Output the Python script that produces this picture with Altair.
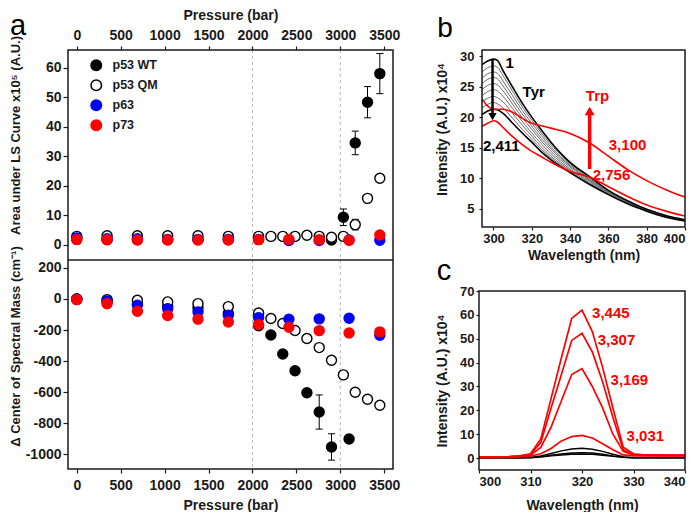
import altair as alt
import pandas as pd

FONT = "Liberation Sans"
INK = "#1a1a1a"
RED = "#ff0000"
BLUE = "#0000ff"
PLAIN = "'' + datum.value"

# ---------------- panel a data ----------------
series_names = ["p53 WT", "p53 QM", "p63", "p73"]
series_fill = ["#000000", "#ffffff", BLUE, RED]
series_stroke = ["#000000", "#000000", BLUE, RED]
pressure_ticks = [0, 500, 1000, 1500, 2000, 2500, 3000, 3500]
guide_pressures = [2000, 3000]
area_ticks = [0, 10, 20, 30, 40, 50, 60]
csm_ticks = [-1000, -800, -600, -400, -200, 0, 200]

# top: area under LS curve (x10^5 A.U.)
wt_top_p = [0, 345, 690, 1035, 1380, 1725, 2070, 2900, 3035, 3170, 3310, 3450]
wt_top_v = [1.8, 1.7, 1.7, 1.7, 1.7, 1.7, 1.8, 1.6, 9.3, 34.5, 48.3, 58.0]
wt_top_e = [0, 0, 0, 0, 0, 0, 0, 0, 2.8, 4.0, 5.3, 6.8]
qm_p = [0, 345, 690, 1035, 1380, 1725, 2070, 2210, 2345, 2485, 2620, 2760, 2900, 3035, 3170, 3310, 3450]
qm_top_v = [2.8, 3.0, 3.0, 3.0, 3.0, 2.8, 2.8, 2.8, 2.8, 2.8, 3.2, 2.8, 2.5, 2.8, 6.8, 15.7, 22.5]
qm_top_e = [0, 0, 0, 0, 0, 0, 0, 0, 0, 0, 0, 0, 0, 0, 1.8, 0, 0]
p6373_p = [0, 345, 690, 1035, 1380, 1725, 2070, 2415, 2760, 3100, 3450]
p63_top_v = [2.3, 2.0, 2.0, 1.8, 1.8, 1.8, 1.8, 1.4, 1.4, 1.6, 1.5]
p73_top_v = [1.8, 1.7, 1.6, 1.6, 1.6, 1.6, 1.7, 1.8, 1.7, 1.5, 3.3]

# bottom: delta center of spectral mass (cm-1)
wt_bot_p = [0, 345, 690, 1035, 1380, 1725, 2070, 2210, 2345, 2485, 2620, 2760, 2900, 3100]
wt_bot_v = [0, -19, -34, -47, -56, -94, -172, -232, -354, -462, -604, -728, -953, -902]
wt_bot_e = [0, 0, 0, 0, 0, 0, 0, 0, 0, 0, 0, 110, 85, 0]
qm_bot_v = [0, -4, -8, -19, -30, -49, -90, -126, -158, -203, -255, -313, -395, -489, -601, -646, -684]
p63_bot_v = [-3, -12, -40, -62, -83, -105, -120, -130, -128, -124, -234]
p63_bot_e = [0, 0, 0, 0, 0, 0, 0, 0, 22, 25, 0]
p73_bot_v = [-4, -30, -79, -107, -130, -148, -165, -182, -204, -219, -212]

# ---------------- panel b data ----------------
b_wl = [294, 297, 300, 302, 305, 310, 315, 320, 325, 330, 340, 350, 360, 370, 380, 390, 400]
b_curve_1 = [28.6, 29.2, 29.5, 29.3, 27.6, 24.9, 22.3, 20.0, 17.9, 15.9, 12.6, 10.3, 8.0, 6.3, 4.9, 3.9, 3.2]
b_curve_2 = [27.4, 28.1, 28.4, 28.2, 26.8, 24.2, 21.7, 19.5, 17.4, 15.5, 12.4, 10.2, 7.9, 6.2, 4.9, 3.8, 3.1]
b_curve_3 = [26.4, 27.1, 27.4, 27.2, 25.9, 23.5, 21.1, 19.0, 17.0, 15.1, 12.2, 10.0, 7.8, 6.2, 4.8, 3.8, 3.1]
b_curve_4 = [25.5, 26.2, 26.5, 26.3, 25.1, 22.8, 20.5, 18.5, 16.5, 14.8, 12.0, 9.8, 7.7, 6.1, 4.8, 3.8, 3.1]
b_curve_5 = [24.5, 25.2, 25.5, 25.3, 24.3, 22.1, 19.9, 18.0, 16.1, 14.4, 11.8, 9.7, 7.6, 6.1, 4.8, 3.7, 3.0]
b_curve_6 = [23.5, 24.2, 24.5, 24.3, 23.4, 21.4, 19.3, 17.4, 15.6, 14.0, 11.5, 9.5, 7.5, 6.0, 4.7, 3.7, 3.0]
b_curve_7 = [22.5, 23.1, 23.4, 23.2, 22.5, 20.6, 18.7, 16.9, 15.1, 13.6, 11.3, 9.3, 7.4, 6.0, 4.7, 3.7, 3.0]
b_curve_8 = [21.5, 22.1, 22.4, 22.2, 21.5, 19.8, 18.0, 16.4, 14.7, 13.3, 11.1, 9.1, 7.4, 5.9, 4.7, 3.7, 3.0]
b_curve_2411 = [20.4, 21.0, 21.3, 21.2, 20.6, 19.0, 17.4, 15.9, 14.3, 13.0, 10.9, 9.0, 7.3, 5.8, 4.6, 3.6, 3.0]
b_curve_2756 = [18.5, 19.0, 19.4, 19.2, 18.3, 16.8, 15.5, 14.4, 13.5, 12.6, 11.1, 10.2, 8.6, 7.0, 5.6, 4.6, 3.8]
b_curve_3100 = [23.0, 21.8, 21.3, 21.3, 21.3, 20.8, 19.8, 19.0, 18.6, 18.2, 17.3, 15.8, 13.6, 11.4, 9.6, 8.1, 6.9]
b_gray_curves = [b_curve_2, b_curve_3, b_curve_4, b_curve_5, b_curve_6, b_curve_7, b_curve_8]
b_black_curves = [b_curve_1, b_curve_2411]
b_red_curves = [b_curve_2756, b_curve_3100]

b_text = ["1", "Tyr", "2,411", "Trp", "3,100", "2,756"]
b_text_x = [308.5, 321.0, 304.1, 354.3, 370.0, 361.6]
b_text_y = [28.9, 24.2, 15.2, 23.4, 15.5, 10.6]
b_text_col = ["#000000", "#000000", "#000000", RED, RED, RED]

arrow_x = [299.5, 350.2]
arrow_from = [29.4, 11.5]
arrow_to = [20.6, 20.5]
arrow_head_y = [20.1, 21.0]
arrow_shape = ["triangle-down", "triangle-up"]
arrow_col = ["#000000", RED]
arrow_w = [2.5, 3.5]
arrow_head_size = [70, 100]

# ---------------- panel c data ----------------
c_wl = [300, 302, 304, 306, 308, 310, 312, 314, 316, 318, 320, 322, 324, 326, 328, 330, 332, 334, 336, 338, 340]
c_3445 = [0.4, 0.4, 0.5, 0.6, 0.9, 1.8, 8.0, 25.0, 42.0, 58.5, 62.0, 53.0, 38.0, 21.0, 4.5, 1.8, 1.4, 1.3, 1.2, 1.2, 1.2]
c_3307 = [0.4, 0.4, 0.5, 0.6, 0.9, 1.6, 6.5, 21.0, 35.0, 49.3, 52.3, 44.5, 32.0, 17.0, 3.5, 1.5, 1.3, 1.2, 1.1, 1.1, 1.1]
c_3169 = [0.3, 0.3, 0.4, 0.5, 0.7, 1.2, 4.5, 13.0, 24.0, 35.0, 37.5, 30.0, 21.0, 10.0, 2.8, 1.2, 1.1, 1.0, 1.0, 1.0, 1.0]
c_3031 = [0.3, 0.3, 0.3, 0.4, 0.5, 0.8, 1.8, 4.0, 7.2, 9.0, 9.5, 8.4, 6.0, 3.5, 1.3, 0.9, 0.9, 0.9, 0.9, 0.9, 0.9]
c_black_1 = [0.2, 0.2, 0.2, 0.2, 0.2, 0.3, 0.9, 1.9, 3.0, 3.8, 4.1, 3.7, 2.8, 1.6, 0.6, 0.2, 0.2, 0.2, 0.2, 0.2, 0.2]
c_black_2 = [0.1, 0.1, 0.1, 0.1, 0.1, 0.2, 0.6, 1.2, 1.7, 2.1, 2.3, 2.1, 1.6, 0.9, 0.3, 0.1, 0.1, 0.1, 0.1, 0.1, 0.1]
c_black_3 = [0.1, 0.1, 0.1, 0.1, 0.1, 0.1, 0.4, 0.9, 1.3, 1.6, 1.7, 1.6, 1.2, 0.7, 0.3, 0.1, 0.1, 0.1, 0.1, 0.1, 0.1]
c_red_curves = [c_3031, c_3169, c_3307, c_3445]
c_black_curves = [c_black_1, c_black_2, c_black_3]

c_text = ["3,445", "3,307", "3,169", "3,031"]
c_text_x = [325.6, 326.7, 329.2, 332.3]
c_text_y = [60.8, 49.6, 32.6, 9.2]

# ---------------- build tables ----------------
stroke_map = dict(zip(series_names, series_stroke))


def make_points(parts):
    frames = []
    for name, ps, vs, es in parts:
        frames.append(pd.DataFrame({"series": name, "pressure": ps, "value": vs, "err": es}))
    df = pd.concat(frames, ignore_index=True)
    df["order"] = range(len(df))
    df["ecol"] = df["series"].map(stroke_map)
    df["lo"] = df["value"] - df["err"]
    df["hi"] = df["value"] + df["err"]
    return df


top_df = make_points([
    ("p53 WT", wt_top_p, wt_top_v, wt_top_e),
    ("p53 QM", qm_p, qm_top_v, qm_top_e),
    ("p63", p6373_p, p63_top_v, [0] * len(p6373_p)),
    ("p73", p6373_p, p73_top_v, [0] * len(p6373_p)),
])
bot_df = make_points([
    ("p53 WT", wt_bot_p, wt_bot_v, wt_bot_e),
    ("p53 QM", qm_p, qm_bot_v, [0] * len(qm_p)),
    ("p63", p6373_p, p63_bot_v, p63_bot_e),
    ("p73", p6373_p, p73_bot_v, [0] * len(p6373_p)),
])


def make_lines(wl, curves, col, w):
    frames = []
    for i, c in enumerate(curves):
        frames.append(pd.DataFrame({"wl": wl, "I": c, "curve": f"{col}{i}", "col": col, "w": w}))
    return pd.concat(frames, ignore_index=True)


b_gray_df = make_lines(b_wl, b_gray_curves, "#6a6a6a", 1.0)
b_black_df = make_lines(b_wl, b_black_curves, "#000000", 1.6)
b_red_df = make_lines(b_wl, b_red_curves, RED, 1.6)
c_black_df = make_lines(c_wl, c_black_curves, "#000000", 1.4)
c_red_df = make_lines(c_wl, c_red_curves, RED, 1.7)

arrows_df = pd.DataFrame({"x": arrow_x, "y1": arrow_from, "y2": arrow_to, "hy": arrow_head_y,
                          "shape": arrow_shape, "col": arrow_col, "w": arrow_w, "hs": arrow_head_size})
b_text_df = pd.DataFrame({"t": b_text, "x": b_text_x, "y": b_text_y, "col": b_text_col})
c_text_df = pd.DataFrame({"t": c_text, "x": c_text_x, "y": c_text_y})
one = pd.DataFrame({"k": [0]})

# ---------------- panel a ----------------
W_A, H_A, H_TOP = 325, 419, 210
x_a = alt.Scale(domain=[-100, 3600], nice=False, zero=False)
ax_top = alt.Axis(orient="top", values=pressure_ticks, title="Pressure (bar)", tickSize=4,
                  labelPadding=4, titlePadding=6, labelFontSize=14, labelExpr=PLAIN)
ax_bot = alt.Axis(orient="bottom", values=pressure_ticks, title="Pressure (bar)", tickSize=4,
                  labelPadding=5, titlePadding=6, labelFontSize=14, labelExpr=PLAIN)
y_top_scale = alt.Scale(domain=[-5.2, 66], range=[H_TOP, 0], nice=False, zero=False)
y_bot_scale = alt.Scale(domain=[-1095, 251], range=[H_A, H_TOP], nice=False, zero=False)
ay_top = alt.Axis(orient="left", values=area_ticks, title="Area under LS Curve x10⁵ (A.U.)",
                  tickSize=5, labelPadding=2, labelFontSize=14, titleFontSize=13, labelExpr=PLAIN,
                  titleX=-46, titleY=85, titleAngle=-90, titleBaseline="bottom", titleAlign="center")
ay_bot = alt.Axis(orient="left", values=csm_ticks, title="Δ Center of Spectral Mass (cm⁻¹)",
                  tickSize=5, labelPadding=2, labelFontSize=14, titleFontSize=13, labelExpr=PLAIN,
                  titleX=-46, titleY=296, titleAngle=-90, titleBaseline="bottom", titleAlign="center")

legend_a = alt.Legend(orient="none", legendX=22, legendY=9, title=None, labelFont=FONT,
                      labelFontSize=12.5, labelFontWeight="bold", labelColor=INK, symbolSize=110,
                      symbolStrokeWidth=1.5, labelOffset=10, rowPadding=3, padding=0,
                      symbolType="circle")
fill_scale = alt.Scale(domain=series_names, range=series_fill)
stroke_scale = alt.Scale(domain=series_names, range=series_stroke)


def point_group(df, yscale, yaxis, xaxis):
    e = df[df["err"] > 0]
    xenc = alt.X("pressure:Q", scale=x_a, axis=xaxis)
    rule = alt.Chart(e).mark_rule(strokeWidth=1, opacity=1).encode(
        x=xenc, y=alt.Y("lo:Q", scale=yscale, axis=yaxis), y2="hi:Q",
        color=alt.Color("ecol:N", scale=None))
    cap_lo = alt.Chart(e).mark_tick(orient="horizontal", size=7, thickness=1, opacity=1).encode(
        x=xenc, y=alt.Y("lo:Q", scale=yscale, axis=yaxis), color=alt.Color("ecol:N", scale=None))
    cap_hi = alt.Chart(e).mark_tick(orient="horizontal", size=7, thickness=1, opacity=1).encode(
        x=xenc, y=alt.Y("hi:Q", scale=yscale, axis=yaxis), color=alt.Color("ecol:N", scale=None))
    pts = alt.Chart(df).mark_circle(size=100, strokeWidth=1.4, opacity=1).encode(
        x=xenc, y=alt.Y("value:Q", scale=yscale, axis=yaxis),
        fill=alt.Fill("series:N", scale=fill_scale, legend=legend_a),
        stroke=alt.Stroke("series:N", scale=stroke_scale, legend=legend_a),
        order=alt.Order("order:Q"))
    return alt.layer(rule, cap_lo, cap_hi, pts)


guides = alt.Chart(pd.DataFrame({"p": guide_pressures})).mark_rule(
    color="#b5b5b5", strokeDash=[3, 3], strokeWidth=1).encode(
    x=alt.X("p:Q", scale=x_a, axis=None))
sep_a = alt.Chart(one).mark_rule(color=INK, strokeWidth=1.5).encode(
    x=alt.value(0), x2=alt.value(W_A), y=alt.value(H_TOP))
frame_a = alt.Chart(one).mark_rect(fillOpacity=0, stroke=INK, strokeWidth=1.5).encode(
    x=alt.value(0), x2=alt.value(W_A), y=alt.value(0), y2=alt.value(H_A))
label_a = alt.Chart(pd.DataFrame({"t": ["a"]})).mark_text(
    font=FONT, fontSize=29, align="center", baseline="alphabetic", color="#000000").encode(
    x=alt.value(-50), y=alt.value(-15), text="t:N")

panel_a = alt.layer(
    guides,
    point_group(top_df, y_top_scale, ay_top, ax_top),
    point_group(bot_df, y_bot_scale, ay_bot, ax_bot),
    sep_a, frame_a, label_a,
).resolve_scale(y="independent").resolve_axis(x="independent", y="independent").properties(
    width=W_A, height=H_A)

# ---------------- panels b & c ----------------
W_R, H_R, B_H, C_TOP = 206, 420, 177, 241
x_b = alt.Scale(domain=[294, 400], range=[3, W_R], nice=False, zero=False)
y_b = alt.Scale(domain=[2, 31], range=[B_H, 0], nice=False, zero=False)
x_c = alt.Scale(domain=[300, 340], range=[0, W_R], nice=False, zero=False)
y_c = alt.Scale(domain=[-5, 70], range=[H_R, C_TOP], nice=False, zero=False)
ax_bx = alt.Axis(orient="bottom", offset=-(H_R - B_H), values=[300, 320, 340, 360, 380, 400],
                 title="Wavelength (nm)", tickSize=3, labelPadding=2, titlePadding=3, labelExpr=PLAIN)
ax_by = alt.Axis(orient="left", offset=-3, values=[5, 10, 15, 20, 25, 30],
                 title="Intensity (A.U.) x10⁴", tickSize=3, labelPadding=5, labelExpr=PLAIN,
                 titleX=-33, titleY=79, titleAngle=-90, titleBaseline="bottom", titleAlign="center")
ax_cx = alt.Axis(orient="bottom", values=[300, 310, 320, 330, 340], title="Wavelength (nm)",
                 tickSize=3, labelPadding=2, titlePadding=10, labelExpr=PLAIN)
ax_cy = alt.Axis(orient="left", values=[0, 10, 20, 30, 40, 50, 60, 70],
                 title="Intensity (A.U.) x10⁴", tickSize=3, labelPadding=2, labelExpr=PLAIN,
                 titleX=-30, titleAngle=-90, titleBaseline="bottom", titleAlign="center")


def lines(df, xs, ys, xa, ya, interp):
    return alt.Chart(df).mark_line(interpolate=interp).encode(
        x=alt.X("wl:Q", scale=xs, axis=xa), y=alt.Y("I:Q", scale=ys, axis=ya),
        detail="curve:N", color=alt.Color("col:N", scale=None),
        strokeWidth=alt.StrokeWidth("w:Q", scale=None))


b_arrows = alt.Chart(arrows_df).mark_rule().encode(
    x=alt.X("x:Q", scale=x_b, axis=ax_bx), y=alt.Y("y1:Q", scale=y_b, axis=ax_by), y2="y2:Q",
    color=alt.Color("col:N", scale=None), strokeWidth=alt.StrokeWidth("w:Q", scale=None))
b_heads = alt.Chart(arrows_df).mark_point(filled=True, opacity=1).encode(
    x=alt.X("x:Q", scale=x_b, axis=ax_bx), y=alt.Y("hy:Q", scale=y_b, axis=ax_by),
    shape=alt.Shape("shape:N", scale=None), color=alt.Color("col:N", scale=None),
    size=alt.Size("hs:Q", scale=None))
b_labels = alt.Chart(b_text_df).mark_text(font=FONT, fontSize=15, fontWeight="bold").encode(
    x=alt.X("x:Q", scale=x_b, axis=ax_bx), y=alt.Y("y:Q", scale=y_b, axis=ax_by),
    text="t:N", color=alt.Color("col:N", scale=None))
b_group = alt.layer(
    lines(b_gray_df, x_b, y_b, ax_bx, ax_by, "monotone"),
    lines(b_black_df, x_b, y_b, ax_bx, ax_by, "monotone"),
    lines(b_red_df, x_b, y_b, ax_bx, ax_by, "monotone"),
    b_arrows, b_heads, b_labels)

c_labels = alt.Chart(c_text_df).mark_text(font=FONT, fontSize=15, fontWeight="bold", color=RED).encode(
    x=alt.X("x:Q", scale=x_c, axis=ax_cx), y=alt.Y("y:Q", scale=y_c, axis=ax_cy), text="t:N")
c_group = alt.layer(
    lines(c_black_df, x_c, y_c, ax_cx, ax_cy, "linear"),
    lines(c_red_df, x_c, y_c, ax_cx, ax_cy, "linear"),
    c_labels)

frame_b = alt.Chart(one).mark_rect(fillOpacity=0, stroke=INK, strokeWidth=1.5).encode(
    x=alt.value(3), x2=alt.value(W_R), y=alt.value(0), y2=alt.value(B_H))
frame_c = alt.Chart(one).mark_rect(fillOpacity=0, stroke=INK, strokeWidth=1.5).encode(
    x=alt.value(0), x2=alt.value(W_R), y=alt.value(C_TOP), y2=alt.value(H_R))
label_b = alt.Chart(pd.DataFrame({"t": ["b"]})).mark_text(
    font=FONT, fontSize=28, align="center", baseline="alphabetic", color="#000000").encode(
    x=alt.value(-34), y=alt.value(-13), text="t:N")
label_c = alt.Chart(pd.DataFrame({"t": ["c"]})).mark_text(
    font=FONT, fontSize=29, align="center", baseline="alphabetic", color="#000000").encode(
    x=alt.value(-35), y=alt.value(230), text="t:N")

panel_bc = alt.layer(b_group, c_group, frame_b, frame_c, label_b, label_c).resolve_scale(
    x="independent", y="independent").resolve_axis(x="independent", y="independent").properties(
    width=W_R, height=H_R)

chart = alt.hconcat(panel_a, panel_bc, spacing=86, bounds="flush").properties(
    padding={"left": 0, "top": 0, "right": 0, "bottom": 0}
).configure(font=FONT).configure_view(stroke=None).configure_axis(
    grid=False, domain=False, labelFont=FONT, titleFont=FONT, labelFontSize=13, titleFontSize=14,
    labelFontWeight="bold", titleFontWeight="bold", labelColor=INK, titleColor=INK,
    tickColor=INK, tickWidth=1.2)

chart.save("out.html", embed_options={"renderer": "svg", "actions": False})
